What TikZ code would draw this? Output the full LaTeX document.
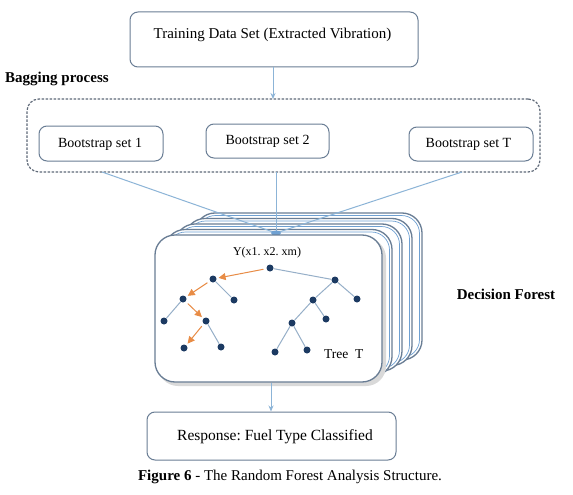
\documentclass[tikz,border=0pt]{standalone}
\usepackage{fontspec}
\setmainfont{Liberation Serif}
\usetikzlibrary{arrows.meta,calc}
\definecolor{boxline}{RGB}{105,125,148}
\definecolor{conn}{RGB}{140,180,215}
\definecolor{innerblue}{RGB}{110,160,210}
\definecolor{dotc}{RGB}{28,58,98}
\definecolor{orng}{RGB}{232,140,70}
\definecolor{edgec}{RGB}{150,175,200}
\definecolor{dashc}{RGB}{95,105,120}
\frenchspacing
\begin{document}
\begin{tikzpicture}[x=1pt,y=-1pt,
  rbox/.style={draw=boxline, line width=1pt, rounded corners=8pt, fill=white, inner sep=0pt},
  txt/.style={font=\fontsize{15}{17}\selectfont, inner sep=0pt},
  bstxt/.style={font=\fontsize{14}{16}\selectfont, inner sep=0pt},
  conline/.style={draw=conn, line width=1pt},
  conarrow/.style={conline, -{Stealth[length=6pt,width=5pt]}},
  card/.style={draw=boxline, line width=1.3pt, rounded corners=20pt, fill=white,
     minimum width=227pt, minimum height=147pt, inner sep=0pt},
  cardin/.style={draw=innerblue, line width=0.7pt, rounded corners=18pt,
     minimum width=222pt, minimum height=142pt, inner sep=0pt},
  tdot/.style={circle, fill=dotc, inner sep=0pt, minimum size=7pt},
  tedge/.style={draw=edgec, line width=1pt},
  oedge/.style={draw=orng, line width=1pt, -{Triangle[length=7pt,width=7pt]}, shorten >=2pt, shorten <=3pt}
]
\useasboundingbox (0,0) rectangle (573,495);
\fill[white] (0,0) rectangle (573,495);

% top box
\node[rbox, minimum width=288pt, minimum height=55pt] (train) at (274,39.5) {};
\node[txt] (traintxt) at (272.5,35) {Training Data Set (Extracted Vibration)};

\node[font=\bfseries\fontsize{15}{17}\selectfont, inner sep=0pt, anchor=west] (bagtxt) at (5,79) {Bagging process};

% dashed bagging box
\node[draw=dashc, line width=1.2pt, dash pattern=on 2.5pt off 1.5pt, rounded corners=12pt,
      minimum width=513pt, minimum height=73pt, inner sep=0pt] (bag) at (283.5,135.5) {};

\node[rbox, minimum width=124pt, minimum height=35pt] (b1) at (101,143.5) {};
\node[bstxt] (b1t) at (100,144) {Bootstrap set 1};
\node[rbox, minimum width=123pt, minimum height=34pt] (b2) at (267.5,141) {};
\node[bstxt] (b2t) at (267.5,141.5) {Bootstrap set 2};
\node[rbox, minimum width=124pt, minimum height=34pt] (bT) at (471,144) {};
\node[bstxt] (bTt) at (468.5,144.5) {Bootstrap set T};

\draw[conarrow] (train.south -| 273,0) -- (273,99);

% stack of cards (back ones)
\foreach \k in {4,3,2,1}{
  \node[card] (card\k) at ({268.5+10*\k},{308.5-5.5*\k}) {};
  \node[cardin] (cardin\k) at ({268.5+10*\k},{308.5-5.5*\k}) {};
}

% lines from bagging to forest
\coordinate (s1) at (102,172);
\coordinate (s2) at (276,172);
\coordinate (s3) at (462,172);
\coordinate (conv) at (276,233);
\draw[conline] (s1) -- (conv);
\draw[conline] (s2) -- (conv);
\draw[conline] (s3) -- (conv);
\fill[innerblue] (conv) ellipse (5pt and 2.5pt);

% front card with shadow
\fill[black!15, rounded corners=20pt] (158,238) rectangle (386,386);
\node[card] (card0) at (268.5,308.5) {};

\node[font=\fontsize{12}{14}\selectfont, inner sep=0pt] (ylab) at (267,253) {Y(x1.\ x2.\ xm)};

% tree nodes
\node[tdot] (r) at (270,268) {};
\node[tdot] (l1) at (213,279) {};
\node[tdot] (r1) at (335,280) {};
\node[tdot] (l2) at (183,299) {};
\node[tdot] (l2b) at (234,300) {};
\node[tdot] (r2) at (313,300) {};
\node[tdot] (r2b) at (357,299) {};
\node[tdot] (l3a) at (164,321) {};
\node[tdot] (l3b) at (206,321) {};
\node[tdot] (r3) at (292,323) {};
\node[tdot] (r3b) at (326,319) {};
\node[tdot] (l4a) at (184,348) {};
\node[tdot] (l4b) at (221,347) {};
\node[tdot] (r4a) at (275,352) {};
\node[tdot] (r4b) at (307,350) {};

\draw[tedge] (r) -- (r1);
\draw[tedge] (l1) -- (l2b);
\draw[tedge] (l2) -- (l3a);
\draw[tedge] (l3b) -- (l4b);
\draw[tedge] (r1) -- (r2);
\draw[tedge] (r1) -- (r2b);
\draw[tedge] (r2) -- (r3);
\draw[tedge] (r2) -- (r3b);
\draw[tedge] (r3) -- (r4a);
\draw[tedge] (r3) -- (r4b);
\draw[oedge] (r) -- (l1);
\draw[oedge] (l1) -- (l2);
\draw[oedge] (l2) -- (l3b);
\draw[oedge] (l3b) -- (l4a);

\node[font=\fontsize{13.5}{15}\selectfont, inner sep=0pt, anchor=west] (treet) at (324,354) {Tree\ \ T};

\node[font=\bfseries\fontsize{15}{17}\selectfont, inner sep=0pt] (dforest) at (506,294) {Decision Forest};

% response
\node[rbox, minimum width=249pt, minimum height=48pt] (resp) at (271.5,436) {};
\node[font=\fontsize{15.5}{17}\selectfont, inner sep=0pt] (resptxt) at (275,437) {Response: Fuel Type Classified};
\draw[conarrow] (card0.south -| 271,0) -- (271,411.5);

\node[font=\fontsize{15}{17}\selectfont, inner sep=0pt] (cap) at (290,477) {\textbf{Figure 6} - The Random Forest Analysis Structure.};
\end{tikzpicture}
\end{document}
